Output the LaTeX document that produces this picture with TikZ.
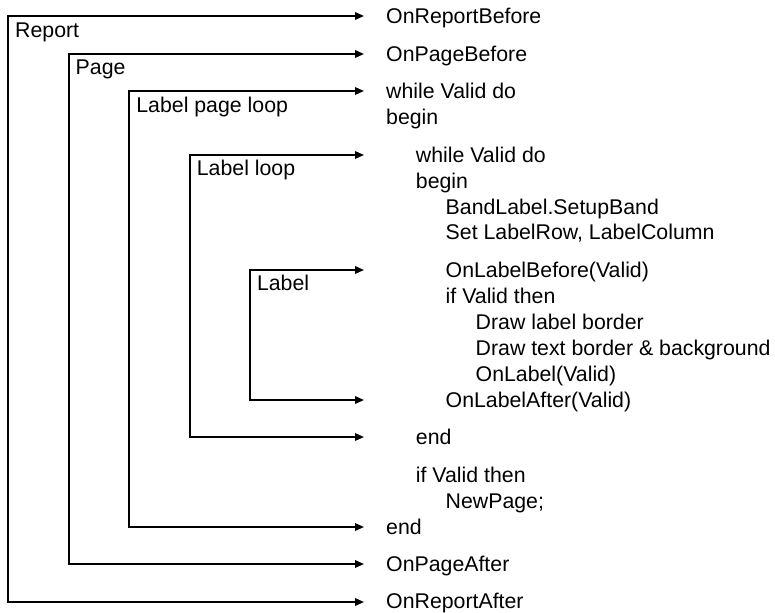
\documentclass[tikz,border=0pt]{standalone}
\usepackage{fontspec}
\setmainfont{Liberation Sans}
\usetikzlibrary{arrows.meta}
\tikzset{
  bracket/.style={line width=1.7pt, line join=miter,
    {Triangle[length=9pt,width=7.5pt]}-{Triangle[length=9pt,width=7.5pt]}},
  codeline/.style={anchor=base west, inner sep=0pt, font=\fontsize{21.3}{25.8}\selectfont},
  scopelabel/.style={anchor=base west, inner sep=0pt, font=\fontsize{21.3}{25.8}\selectfont},
}
\newcommand{\bl}{7.3}
\begin{document}
\begin{tikzpicture}[x=1pt,y=-1pt]
\useasboundingbox (0,0) rectangle (775,612);
% arrow tip x
\def\tx{364}
% brackets: corners
\coordinate (repT) at (8.3,16);   \coordinate (repTe) at (\tx,16);
\coordinate (repB) at (8.3,602);  \coordinate (repBe) at (\tx,602);
\coordinate (pagT) at (68.7,54);  \coordinate (pagTe) at (\tx,54);
\coordinate (pagB) at (68.7,564); \coordinate (pagBe) at (\tx,564);
\coordinate (lplT) at (129.3,91); \coordinate (lplTe) at (\tx,91);
\coordinate (lplB) at (129.3,527);\coordinate (lplBe) at (\tx,527);
\coordinate (llT) at (189.7,155); \coordinate (llTe) at (\tx,155);
\coordinate (llB) at (189.7,437); \coordinate (llBe) at (\tx,437);
\coordinate (lbT) at (250,270);   \coordinate (lbTe) at (\tx,270);
\coordinate (lbB) at (250,400);   \coordinate (lbBe) at (\tx,400);

\draw[bracket] (repTe) -- (repT) -- (repB) -- (repBe);
\draw[bracket] (pagTe) -- (pagT) -- (pagB) -- (pagBe);
\draw[bracket] (lplTe) -- (lplT) -- (lplB) -- (lplBe);
\draw[bracket] (llTe) -- (llT) -- (llB) -- (llBe);
\draw[bracket] (lbTe) -- (lbT) -- (lbB) -- (lbBe);

% scope labels
\node[scopelabel] (lRep) at (15,37.3) {Report};
\node[scopelabel] (lPag) at (75.5,75) {Page};
\node[scopelabel] (lLpl) at (136.2,112.5) {Label page loop};
\node[scopelabel] (lLl) at (196.7,176) {Label loop};
\node[scopelabel] (lLb) at (256.8,290.5) {Label};

% code lines
\def\xa{386}\def\xb{415.7}\def\xc{445.5}\def\xd{475.5}
\node[codeline] (c1) at (\xa,16+\bl) {OnReportBefore};
\node[codeline] (c2) at (\xa,54+\bl) {OnPageBefore};
\node[codeline] (c3) at (\xa,91+\bl) {while Valid do};
\node[codeline] (c4) at (\xa,117+\bl) {begin};
\node[codeline] (c5) at (\xb,155+\bl) {while Valid do};
\node[codeline] (c6) at (\xb,181+\bl) {begin};
\node[codeline] (c7) at (\xc,207+\bl) {BandLabel.SetupBand};
\node[codeline] (c8) at (\xc,232.5+\bl) {Set LabelRow, LabelColumn};
\node[codeline] (c9) at (\xc,270+\bl) {OnLabelBefore(Valid)};
\node[codeline] (c10) at (\xc,296+\bl) {if Valid then};
\node[codeline] (c11) at (\xd,322+\bl) {Draw label border};
\node[codeline] (c12) at (\xd,348+\bl) {Draw text border \& background};
\node[codeline] (c13) at (\xd,374+\bl) {OnLabel(Valid)};
\node[codeline] (c14) at (\xc,400+\bl) {OnLabelAfter(Valid)};
\node[codeline] (c15) at (\xb,437+\bl) {end};
\node[codeline] (c16) at (\xb,475+\bl) {if Valid then};
\node[codeline] (c17) at (\xc,501+\bl) {NewPage;};
\node[codeline] (c18) at (\xa,527+\bl) {end};
\node[codeline] (c19) at (\xa,564+\bl) {OnPageAfter};
\node[codeline] (c20) at (\xa,601+\bl) {OnReportAfter};
\end{tikzpicture}
\end{document}
